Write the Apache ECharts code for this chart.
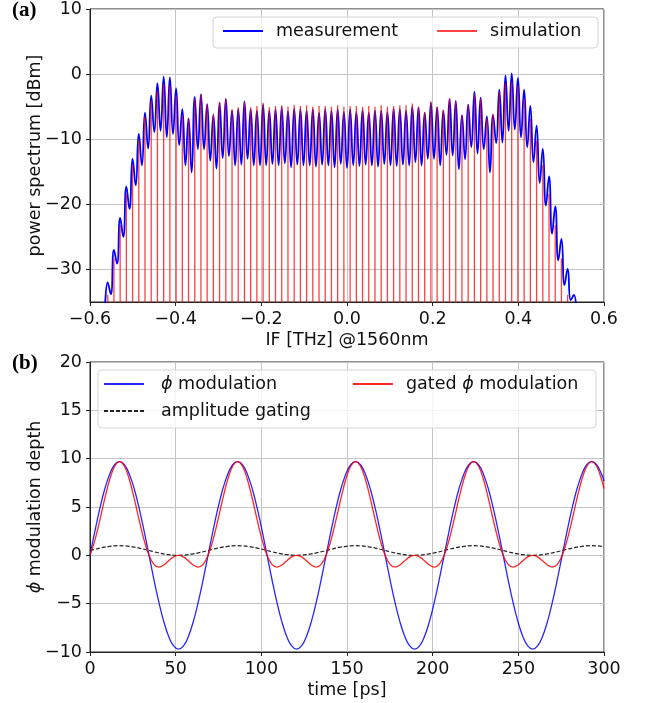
<!DOCTYPE html>
<html><head><meta charset="utf-8">
<script src="https://cdn.jsdelivr.net/npm/echarts@6/dist/echarts.min.js"></script>
<style>html,body{margin:0;padding:0;background:#fff}#c{width:645px;height:703px}</style>
</head><body><div id="c"></div>
<script>
// ---------- panel (a): spectrum ----------
const combFreq = [-0.5586, -0.5441, -0.5296, -0.5151, -0.5006, -0.4861, -0.4716, -0.4571, -0.4426, -0.4280,
  -0.4135, -0.3990, -0.3845, -0.3700, -0.3555, -0.3410, -0.3265, -0.3120, -0.2975, -0.2829,
  -0.2684, -0.2539, -0.2394, -0.2249, -0.2104, -0.1959, -0.1814, -0.1669, -0.1524, -0.1378,
  -0.1233, -0.1088, -0.0943, -0.0798, -0.0653, -0.0508, -0.0363, -0.0218, -0.0073, 0.0073,
  0.0218, 0.0363, 0.0508, 0.0653, 0.0798, 0.0943, 0.1088, 0.1233, 0.1378, 0.1524,
  0.1669, 0.1814, 0.1959, 0.2104, 0.2249, 0.2394, 0.2539, 0.2684, 0.2829, 0.2975,
  0.3120, 0.3265, 0.3410, 0.3555, 0.3700, 0.3845, 0.3990, 0.4135, 0.4280, 0.4426,
  0.4571, 0.4716, 0.4861, 0.5006, 0.5151, 0.5296];
const measPeak = [-32.0, -27.0, -22.1, -17.3, -13.0, -9.2, -5.9, -3.3, -1.4, -0.4,
  -0.5, -2.2, -5.4, -6.8, -3.5, -3.1, -4.6, -6.3, -4.4, -3.8,
  -5.6, -5.4, -4.2, -5.4, -5.6, -4.7, -5.6, -5.4, -5.1, -5.7,
  -5.3, -5.4, -5.6, -5.4, -5.9, -5.4, -5.6, -5.4, -5.8, -5.4,
  -5.8, -5.5, -5.9, -5.6, -5.6, -5.8, -5.3, -5.4, -5.6, -5.0,
  -5.1, -5.9, -4.4, -5.1, -5.6, -3.8, -4.1, -6.3, -4.7, -2.7,
  -3.6, -6.5, -6.3, -2.4, -0.2, 0.1, -0.6, -2.4, -4.9, -7.9,
  -11.5, -15.7, -20.3, -25.3, -29.9, -33.9];
const measTrough = [-33.8, -29.1, -25.0, -20.7, -17.1, -14.0, -11.4, -8.9, -8.7, -9.7,
  -9.2, -10.9, -14.0, -15.1, -11.5, -11.5, -13.3, -14.5, -12.9, -12.6,
  -14.0, -13.9, -13.0, -14.0, -14.0, -14.0, -13.8, -14.0, -13.7, -14.3,
  -13.9, -14.0, -14.0, -14.2, -13.9, -14.0, -14.3, -13.8, -14.4, -14.0,
  -14.1, -13.9, -14.0, -14.2, -13.8, -14.0, -14.1, -13.9, -14.0, -13.5,
  -14.0, -13.0, -13.0, -14.0, -12.4, -12.5, -14.6, -13.1, -11.2, -12.2,
  -11.5, -15.1, -10.6, -10.5, -8.7, -8.5, -9.7, -11.2, -13.5, -16.7,
  -20.2, -24.5, -28.6, -32.4, -34.7, -38.0];
const measEdge = -38.0;
const simLevel = [-33.9, -28.3, -23.2, -18.4, -14.0, -10.2, -6.6, -4.1, -2.6, -1.5,
  -1.8, -3.3, -6.4, -6.8, -3.8, -3.1, -4.7, -6.1, -4.3, -3.9,
  -5.4, -5.1, -4.3, -5.1, -4.9, -4.4, -5.1, -4.9, -4.8, -5.0,
  -4.7, -4.9, -4.8, -5.0, -4.9, -4.9, -5.0, -4.8, -5.0, -4.9,
  -4.9, -5.0, -4.9, -5.0, -4.8, -5.0, -4.9, -4.8, -4.8, -4.5,
  -5.0, -5.9, -4.2, -5.0, -5.5, -3.8, -4.3, -6.3, -4.7, -3.1,
  -3.8, -6.8, -6.1, -2.8, -1.4, -1.2, -1.8, -3.8, -6.9, -10.2,
  -14.0, -18.4, -23.2, -28.3, -33.9, null];
const simFloor = -40;
const specYTicks = [-30, -20, -10, 0, 10];

// ---------- panel (b): modulation ----------
const timePs = [0.00, 2.87, 5.74, 8.61, 11.48, 14.35, 17.22, 20.10, 22.97, 25.84, 28.71, 31.58, 34.45, 37.32, 40.19, 43.06, 45.93, 48.80, 51.67, 54.55, 57.42, 60.29, 63.16, 66.03,
  68.90, 71.77, 74.64, 77.51, 80.38, 83.25, 86.12, 89.00, 91.87, 94.74, 97.61, 100.48, 103.35, 106.22, 109.09, 111.96, 114.83, 117.70, 120.57, 123.45, 126.32, 129.19, 132.06, 134.93,
  137.80, 140.67, 143.54, 146.41, 149.28, 152.15, 155.02, 157.90, 160.77, 163.64, 166.51, 169.38, 172.25, 175.12, 177.99, 180.86, 183.73, 186.60, 189.47, 192.35, 195.22, 198.09, 200.96, 203.83,
  206.70, 209.57, 212.44, 215.31, 218.18, 221.05, 223.92, 226.80, 229.67, 232.54, 235.41, 238.28, 241.15, 244.02, 246.89, 249.76, 252.63, 255.50, 258.37, 261.25, 264.12, 266.99, 269.86, 272.73,
  275.60, 278.47, 281.34, 284.21, 287.08, 289.95, 292.82, 295.70, 298.57, 300.00];
const phiMod = [0, 2.51, 4.85, 6.86, 8.40, 9.37, 9.70, 9.37, 8.40, 6.86, 4.85, 2.51, 0, -2.51, -4.85, -6.86, -8.40, -9.37, -9.70, -9.37, -8.40, -6.86, -4.85, -2.51,
  0, 2.51, 4.85, 6.86, 8.40, 9.37, 9.70, 9.37, 8.40, 6.86, 4.85, 2.51, 0, -2.51, -4.85, -6.86, -8.40, -9.37, -9.70, -9.37, -8.40, -6.86, -4.85, -2.51,
  0, 2.51, 4.85, 6.86, 8.40, 9.37, 9.70, 9.37, 8.40, 6.86, 4.85, 2.51, 0, -2.51, -4.85, -6.86, -8.40, -9.37, -9.70, -9.37, -8.40, -6.86, -4.85, -2.51,
  0, 2.51, 4.85, 6.86, 8.40, 9.37, 9.70, 9.37, 8.40, 6.86, 4.85, 2.51, 0, -2.51, -4.85, -6.86, -8.40, -9.37, -9.70, -9.37, -8.40, -6.86, -4.85, -2.51,
  0, 2.51, 4.85, 6.86, 8.40, 9.37, 9.70, 9.37, 8.40, 7.69];
const ampGate = [0.50, 0.63, 0.75, 0.85, 0.93, 0.98, 1.00, 0.98, 0.93, 0.85, 0.75, 0.63, 0.50, 0.37, 0.25, 0.15, 0.07, 0.02, 0.00, 0.02, 0.07, 0.15, 0.25, 0.37,
  0.50, 0.63, 0.75, 0.85, 0.93, 0.98, 1.00, 0.98, 0.93, 0.85, 0.75, 0.63, 0.50, 0.37, 0.25, 0.15, 0.07, 0.02, 0.00, 0.02, 0.07, 0.15, 0.25, 0.37,
  0.50, 0.63, 0.75, 0.85, 0.93, 0.98, 1.00, 0.98, 0.93, 0.85, 0.75, 0.63, 0.50, 0.37, 0.25, 0.15, 0.07, 0.02, 0.00, 0.02, 0.07, 0.15, 0.25, 0.37,
  0.50, 0.63, 0.75, 0.85, 0.93, 0.98, 1.00, 0.98, 0.93, 0.85, 0.75, 0.63, 0.50, 0.37, 0.25, 0.15, 0.07, 0.02, 0.00, 0.02, 0.07, 0.15, 0.25, 0.37,
  0.50, 0.63, 0.75, 0.85, 0.93, 0.98, 1.00, 0.98, 0.93, 0.90];
const gatedPhi = [0, 1.58, 3.64, 5.86, 7.84, 9.21, 9.70, 9.21, 7.84, 5.86, 3.64, 1.58, 0, -0.93, -1.21, -1.00, -0.56, -0.16, 0, -0.16, -0.56, -1.00, -1.21, -0.93,
  0, 1.58, 3.64, 5.86, 7.84, 9.21, 9.70, 9.21, 7.84, 5.86, 3.64, 1.58, 0, -0.93, -1.21, -1.00, -0.56, -0.16, 0, -0.16, -0.56, -1.00, -1.21, -0.93,
  0, 1.58, 3.64, 5.86, 7.84, 9.21, 9.70, 9.21, 7.84, 5.86, 3.64, 1.58, 0, -0.93, -1.21, -1.00, -0.56, -0.16, 0, -0.16, -0.56, -1.00, -1.21, -0.93,
  0, 1.58, 3.64, 5.86, 7.84, 9.21, 9.70, 9.21, 7.84, 5.86, 3.64, 1.58, 0, -0.93, -1.21, -1.00, -0.56, -0.16, 0, -0.16, -0.56, -1.00, -1.21, -0.93,
  0, 1.58, 3.64, 5.86, 7.84, 9.21, 9.70, 9.21, 7.84, 6.90];

// ---------- build series data ----------
const measData = [];
measData.push([combFreq[0] - (combFreq[1] - combFreq[0]) / 2, measEdge]);
for (let i = 0; i < combFreq.length; i++) {
  measData.push([combFreq[i], measPeak[i]]);
  const nxt = i + 1 < combFreq.length ? combFreq[i + 1] : combFreq[i] + (combFreq[i] - combFreq[i - 1]);
  measData.push([(combFreq[i] + nxt) / 2, measTrough[i]]);
}
const simData = [];
combFreq.forEach((f, i) => {
  if (simLevel[i] != null) simData.push([f, simFloor], [f, simLevel[i]], [f, '-']);
});
const zipT = arr => timePs.map((t, i) => [t, arr[i]]);

const FONT = 'DejaVu Sans';
const FS = 17.5;
const TXT = '#111';
const GRIDC = '#c4c4c4';
const AX = '#222';
const minus = s => String(s).replace('-', '\u2212');
const fmt1 = v => Math.abs(v) < 1e-9 ? '0.0' : minus(v.toFixed(1));
const fmt0 = v => minus(Math.round(v));
const rich = { i: { fontStyle: 'italic', fontFamily: FONT, fontSize: FS, color: TXT } };

function xAx(grid, min, max, interval, name, fmt) {
  return {
    gridIndex: grid, type: 'value', min, max, interval, name, nameLocation: 'middle', nameGap: 29,
    nameMoveOverlap: false,
    nameTextStyle: { fontFamily: FONT, fontSize: FS, color: TXT },
    axisLine: { onZero: false, lineStyle: { color: AX, width: 1 } },
    axisTick: { length: 4, lineStyle: { color: AX } },
    axisLabel: { formatter: fmt, margin: 8, fontFamily: FONT, fontSize: FS, color: TXT },
    splitLine: { show: true, lineStyle: { color: GRIDC, width: 1 } }
  };
}
const legendBase = {
  orient: 'vertical', padding: 0, itemWidth: 40, itemHeight: 14, selectedMode: false, z: 10,
  itemStyle: { opacity: 0, borderWidth: 0 }
};

const chart = echarts.init(document.getElementById('c'), null, { renderer: 'canvas' });
chart.setOption({
  animation: false,
  backgroundColor: '#fff',
  grid: [
    { left: 90, right: 41, top: 8, height: 294, show: true, borderColor: AX, borderWidth: 1, backgroundColor: 'transparent' },
    { left: 90, right: 41, top: 362, height: 290, show: true, borderColor: AX, borderWidth: 1, backgroundColor: 'transparent' }
  ],
  xAxis: [
    xAx(0, -0.6, 0.6, 0.2, 'IF [THz] @1560nm', fmt1),
    xAx(1, 0, 300, 50, 'time [ps]', fmt0)
  ],
  yAxis: [
    {
      gridIndex: 0, type: 'value', min: -35, max: 10,
      name: 'power spectrum [dBm]', nameLocation: 'middle', nameGap: 46, nameMoveOverlap: false,
      nameTextStyle: { fontFamily: FONT, fontSize: FS, color: TXT },
      axisLine: { onZero: false, lineStyle: { color: AX, width: 1 } },
      axisTick: { length: 4, lineStyle: { color: AX }, customValues: specYTicks },
      axisLabel: { customValues: specYTicks, formatter: fmt0, margin: 8, fontFamily: FONT, fontSize: FS, color: TXT },
      splitLine: { show: true, lineStyle: { color: GRIDC, width: 1 } }
    },
    {
      gridIndex: 1, type: 'value', min: -10, max: 20, interval: 5,
      name: '{i|ϕ} modulation depth', nameLocation: 'middle', nameGap: 46, nameMoveOverlap: false,
      nameTextStyle: { fontFamily: FONT, fontSize: FS, color: TXT, rich },
      axisLine: { onZero: false, lineStyle: { color: AX, width: 1 } },
      axisTick: { length: 4, lineStyle: { color: AX } },
      axisLabel: { formatter: fmt0, margin: 8, fontFamily: FONT, fontSize: FS, color: TXT },
      splitLine: { show: true, lineStyle: { color: GRIDC, width: 1 } }
    }
  ],
  legend: [
    Object.assign({}, legendBase, {
      data: ['measurement', 'simulation'], left: 222, top: 22, orient: 'horizontal', itemGap: 38,
      textStyle: { fontFamily: FONT, fontSize: FS, color: TXT, padding: [0, 0, 0, 8] }
    }),
    Object.assign({}, legendBase, {
      data: ['ϕ modulation', 'amplitude gating'], left: 103, top: 375, itemGap: 9,
      formatter: n => n.replace('ϕ', '{i|ϕ}'),
      textStyle: { fontFamily: FONT, fontSize: FS, color: TXT, padding: [0, 0, 0, 12], rich }
    }),
    Object.assign({}, legendBase, {
      data: ['gated ϕ modulation'], left: 352, top: 375,
      formatter: n => n.replace('ϕ', '{i|ϕ}'),
      textStyle: { fontFamily: FONT, fontSize: FS, color: TXT, padding: [0, 0, 0, 8], rich }
    })
  ],
  graphic: [
    { type: 'rect', z: 5, shape: { x: 213, y: 17, width: 385, height: 31, r: 4 }, style: { fill: 'rgba(255,255,255,0.8)', stroke: '#d4d4d4', lineWidth: 1 } },
    { type: 'rect', z: 5, shape: { x: 98, y: 370, width: 498, height: 58, r: 4 }, style: { fill: 'rgba(255,255,255,0.8)', stroke: '#d4d4d4', lineWidth: 1 } },
    { type: 'text', z: 5, x: 12, y: 0, style: { text: '(a)', font: 'bold 21px "Liberation Serif"', fill: '#000' } },
    { type: 'text', z: 5, x: 12, y: 353, style: { text: '(b)', font: 'bold 21px "Liberation Serif"', fill: '#000' } }
  ],
  series: [
    {
      name: 'measurement', type: 'line', xAxisIndex: 0, yAxisIndex: 0, data: measData,
      symbol: 'none', smooth: 0.5, lineStyle: { color: '#0000ff', width: 1.8 }, itemStyle: { color: '#0000ff' }, z: 2
    },
    {
      name: 'simulation', type: 'line', xAxisIndex: 0, yAxisIndex: 0, data: simData,
      symbol: 'none', connectNulls: false, lineStyle: { color: 'rgba(255,0,0,0.75)', width: 1.3 }, itemStyle: { color: 'rgba(255,0,0,0.75)' }, z: 3
    },
    {
      name: 'ϕ modulation', type: 'line', xAxisIndex: 1, yAxisIndex: 1, data: zipT(phiMod),
      symbol: 'none', smooth: 0.4, lineStyle: { color: 'rgba(0,0,255,0.85)', width: 1.3 }, itemStyle: { color: 'rgba(0,0,255,0.85)' }, z: 2
    },
    {
      name: 'amplitude gating', type: 'line', xAxisIndex: 1, yAxisIndex: 1, data: zipT(ampGate),
      symbol: 'none', smooth: 0.4, lineStyle: { color: '#222', width: 1.2, type: [4, 2] }, itemStyle: { color: '#222' }, z: 3
    },
    {
      name: 'gated ϕ modulation', type: 'line', xAxisIndex: 1, yAxisIndex: 1, data: zipT(gatedPhi),
      symbol: 'none', smooth: 0.4, lineStyle: { color: 'rgba(255,0,0,0.85)', width: 1.3 }, itemStyle: { color: 'rgba(255,0,0,0.85)' }, z: 4
    }
  ]
});
</script></body></html>
